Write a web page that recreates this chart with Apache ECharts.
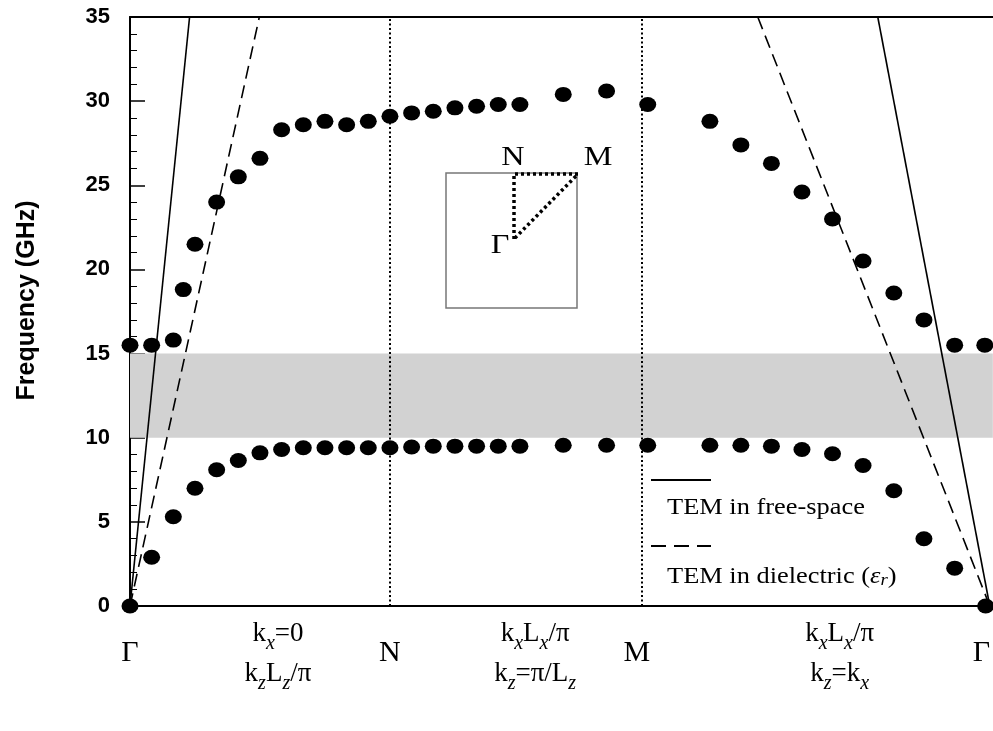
<!DOCTYPE html>
<html>
<head>
<meta charset="utf-8">
<script src="https://cdn.jsdelivr.net/npm/echarts@6/dist/echarts.min.js"></script>
<style>html,body{margin:0;padding:0;background:#fff;}#c{width:993px;height:731px;}</style>
</head>
<body>
<div id="c"></div>
<script>
// ---- data ----
var upperX = [0,1,2,2.46,3,4,5,6,7,8,9,10,11,12,13,14,15,16,17,18,20,22,23.9,26.77,28.2,29.61,31.02,32.43,33.84,35.26,36.65,38.07,39.46];
var upperY = [15.5,15.5,15.8,18.8,21.5,24.0,25.5,26.6,28.3,28.6,28.8,28.6,28.8,29.1,29.3,29.4,29.6,29.7,29.8,29.8,30.4,30.6,29.8,28.8,27.4,26.3,24.6,23.0,20.5,18.6,17.0,15.5,15.5];
var lowerX = [0,1,2,3,4,5,6,7,8,9,10,11,12,13,14,15,16,17,18,20,22,23.9,26.77,28.2,29.61,31.02,32.43,33.84,35.26,36.65,38.07,39.5];
var lowerY = [0,2.9,5.3,7.0,8.1,8.65,9.1,9.3,9.4,9.4,9.4,9.4,9.4,9.45,9.5,9.5,9.5,9.5,9.5,9.55,9.55,9.55,9.55,9.55,9.5,9.3,9.05,8.35,6.85,4.0,2.25,0];
var freeSpaceLeft = [[0,0],[2.75,35]];
var dielectricLeft = [[0,0],[5.97,35]];
var freeSpaceRight = [[34.52,35],[39.69,0]];
var dielectricRight = [[28.98,35],[39.69,0]];
var bandGap = [10,15];
var symmetryLines = [12, 23.63];
var yTicks = {min:0, max:35, interval:5};
var xMax = 39.83;
var xLabelPos = [0, 6.83, 12, 18.7, 23.4, 32.76, 39.3];
var xLabelText = [
  '{g|Γ}',
  '{t|k}{s|x}{t|=0}\n{t|k}{s|z}{t|L}{s|z}{t|/π}',
  '{g|N}',
  '{t|k}{s|x}{t|L}{s|x}{t|/π}\n{t|k}{s|z}{t|=π/L}{s|z}',
  '{g|M}',
  '{t|k}{s|x}{t|L}{s|x}{t|/π}\n{t|k}{s|z}{t|=k}{s|x}',
  '{g|Γ}'
];
var legendItems = ['TEM in free-space', 'TEM in dielectric'];
var yName = 'Frequency (GHz)';

var chart = echarts.init(document.getElementById('c'), null, {renderer:'canvas'});
function zip(a,b){ return a.map(function(v,i){ return [v,b[i]]; }); }
var serif = 'Liberation Serif, Times New Roman, serif';
var sans = 'Liberation Sans, Arial, sans-serif';

var option = {
  backgroundColor:'#fff',
  animation:false,
  grid:{left:130, right:0, top:17, bottom:125},
  xAxis:[{
    type:'value', min:0, max:xMax, position:'bottom',
    axisLine:{show:true, onZero:false, lineStyle:{color:'#000', width:2}},
    axisTick:{show:false},
    splitLine:{show:false},
    axisLabel:{
      show:true, customValues:xLabelPos, margin:8, color:'#000',
      formatter:function(v){ var i = xLabelPos.indexOf(v); return i>=0 ? xLabelText[i] : ''; },
      rich:{
        g:{fontFamily:serif, fontSize:30, lineHeight:40, padding:[38,0,0,0], color:'#000'},
        t:{fontFamily:serif, fontSize:27, lineHeight:40, color:'#000'},
        s:{fontFamily:serif, fontSize:20, fontStyle:'italic', lineHeight:34, verticalAlign:'bottom', color:'#000'}
      }
    }
  },{
    type:'value', min:0, max:xMax, position:'top',
    axisLine:{show:true, onZero:false, lineStyle:{color:'#000', width:2}},
    axisTick:{show:false}, axisLabel:{show:false}, splitLine:{show:false}
  }],
  yAxis:{
    type:'value', min:yTicks.min, max:yTicks.max, interval:yTicks.interval,
    name:yName, nameLocation:'middle', nameGap:90,
    nameTextStyle:{fontFamily:sans, fontWeight:'bold', fontSize:25, color:'#000', padding:[0,0,0,22]},
    axisLine:{show:true, lineStyle:{color:'#000', width:2}},
    axisTick:{show:true, inside:true, length:15, lineStyle:{color:'#000', width:1.5}},
    minorTick:{show:true, splitNumber:5, length:7, lineStyle:{color:'#000', width:1}},
    splitLine:{show:false},
    axisLabel:{fontFamily:sans, fontWeight:'bold', fontSize:22, color:'#000', margin:20}
  },
  series:[
    {
      type:'line', data:freeSpaceLeft, symbol:'none', z:3,
      lineStyle:{color:'#000', width:1.6},
      markArea:{silent:true, itemStyle:{color:'#d2d2d2'}, data:[[{yAxis:bandGap[0]},{yAxis:bandGap[1]}]]},
      markLine:{silent:true, symbol:'none', label:{show:false},
        lineStyle:{color:'#000', width:2, type:[2,2.5]},
        data:symmetryLines.map(function(x){return {xAxis:x};})}
    },
    {type:'line', data:freeSpaceRight, symbol:'none', z:3, lineStyle:{color:'#000', width:1.6}},
    {type:'line', data:dielectricLeft, symbol:'none', z:3, lineStyle:{color:'#000', width:1.6, type:[13,7]}},
    {type:'line', data:dielectricRight, symbol:'none', z:3, lineStyle:{color:'#000', width:1.6, type:[13,7]}},
    {type:'scatter', data:zip(upperX, upperY), symbol:'circle', symbolSize:[17,15], z:5, itemStyle:{color:'#000', opacity:1}},
    {type:'scatter', data:zip(lowerX, lowerY), symbol:'circle', symbolSize:[17,15], z:5, itemStyle:{color:'#000', opacity:1}}
  ],
  graphic:[
    // inset Brillouin-zone sketch
    {type:'rect', shape:{x:446, y:173, width:131, height:135}, style:{fill:'#fff', stroke:'#777', lineWidth:1.5}, z:10},
    {type:'polyline', shape:{points:[[514,239],[514,174],[578,174],[514,239]]}, style:{fill:null, stroke:'#000', lineWidth:3.5, lineDash:[3,3]}, z:11},
    {type:'text', x:513, y:158, scaleX:1.15, style:{text:'N', font:'28px '+serif, fill:'#000', align:'center', verticalAlign:'middle'}, z:12},
    {type:'text', x:598, y:158, scaleX:1.15, style:{text:'M', font:'28px '+serif, fill:'#000', align:'center', verticalAlign:'middle'}, z:12},
    {type:'text', x:500, y:246, scaleX:1.15, style:{text:'Γ', font:'28px '+serif, fill:'#000', align:'center', verticalAlign:'middle'}, z:12},
    // legend
    {type:'line', shape:{x1:651, y1:480, x2:711, y2:480}, style:{stroke:'#000', lineWidth:2}, z:10},
    {type:'text', x:667, y:508, scaleX:1.1, style:{text:legendItems[0], font:'24px '+serif, fill:'#000', align:'left', verticalAlign:'middle'}, z:10},
    {type:'line', shape:{x1:651, y1:546, x2:711, y2:546}, style:{stroke:'#000', lineWidth:2, lineDash:[15,8]}, z:10},
    {type:'text', x:667, y:577, scaleX:1.1, style:{
      text:legendItems[1] + ' {p|(}{e|ε}{r|r}{p|)}', font:'24px '+serif, fill:'#000', align:'left', verticalAlign:'middle',
      rich:{p:{font:'24px '+serif, fill:'#000'}, e:{font:'italic 24px '+serif, fill:'#000'}, r:{font:'italic 17px '+serif, fill:'#000', verticalAlign:'bottom', lineHeight:22}}
    }, z:10}
  ]
};
chart.setOption(option);
</script>
</body>
</html>
